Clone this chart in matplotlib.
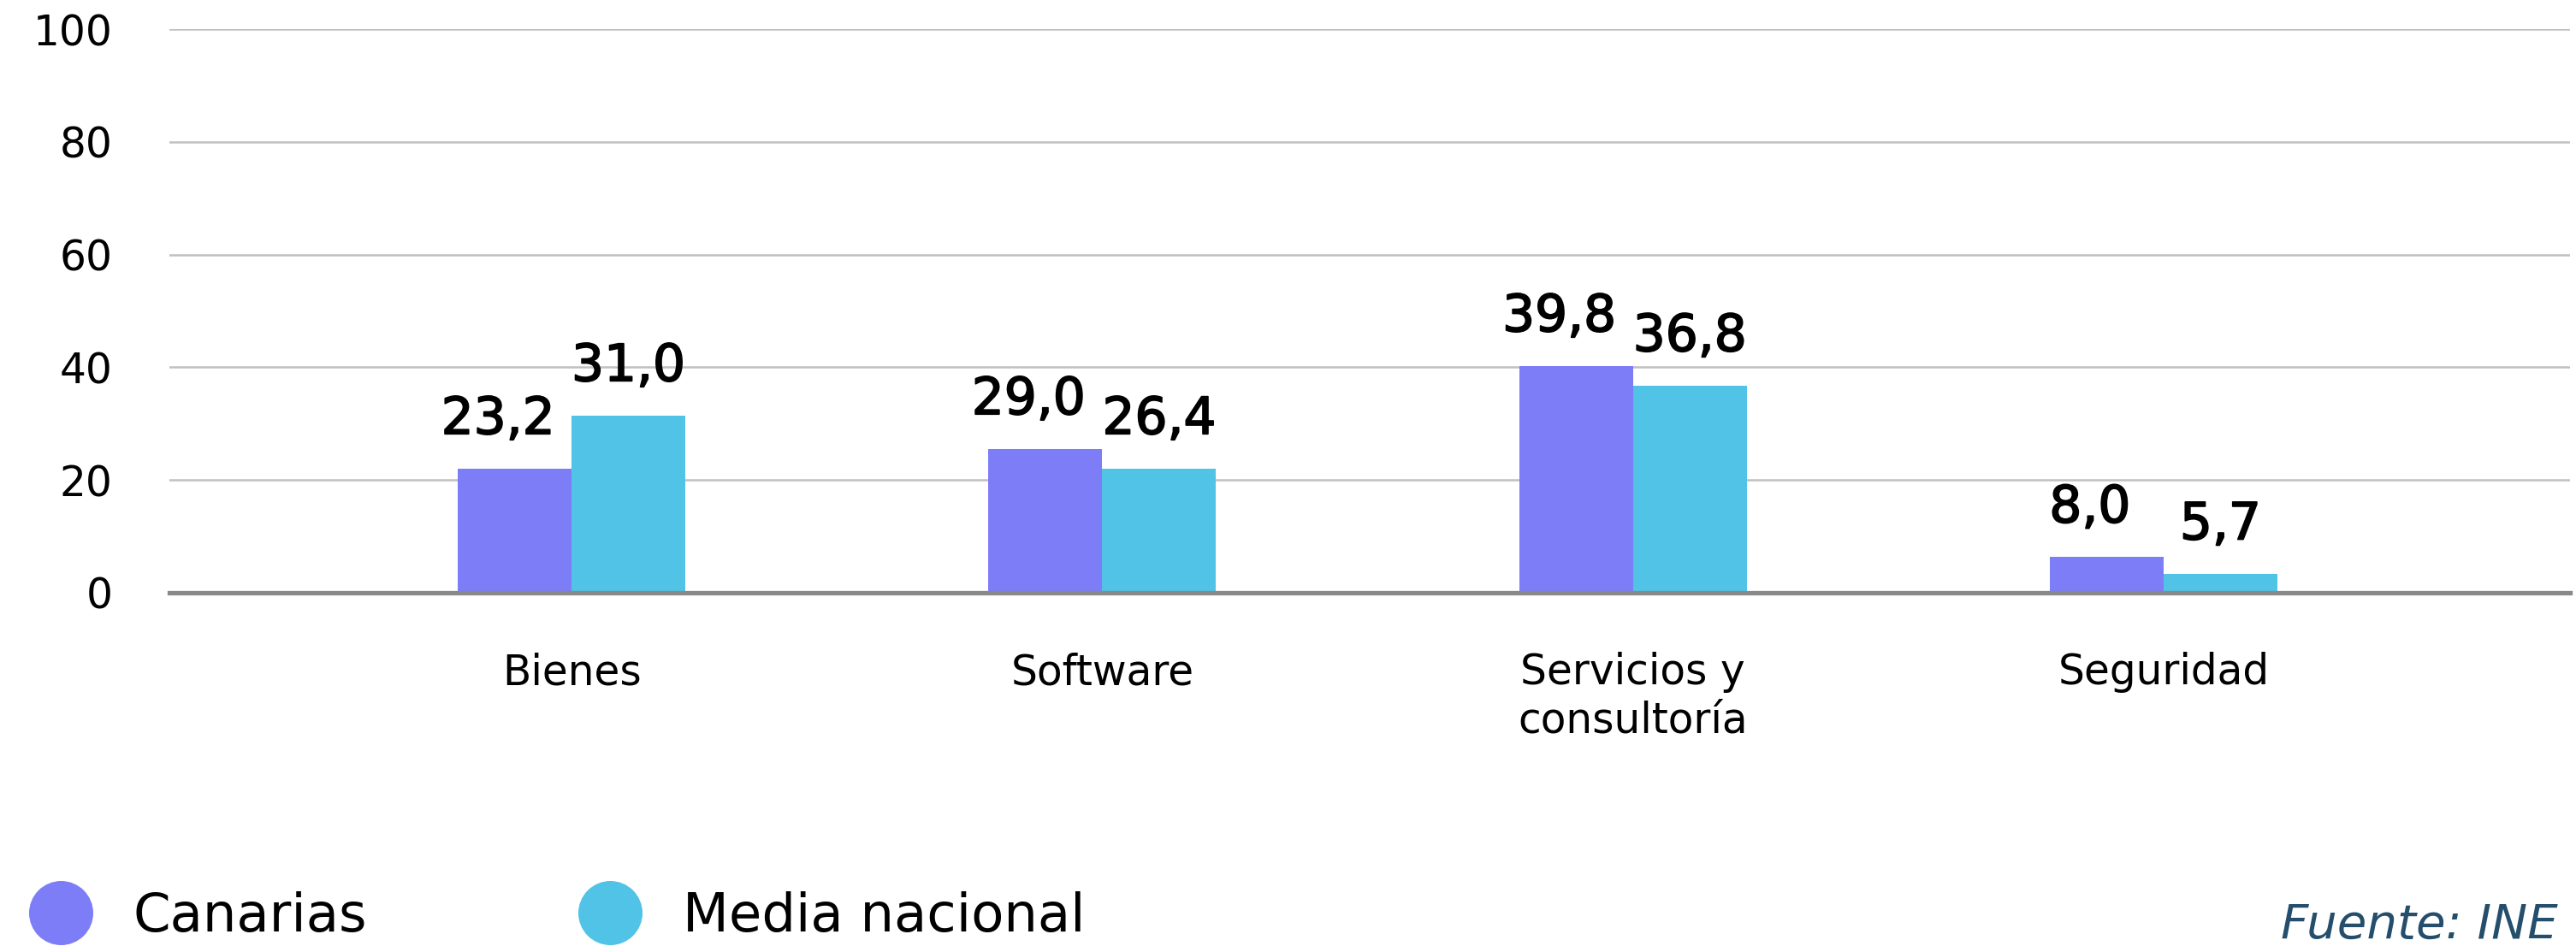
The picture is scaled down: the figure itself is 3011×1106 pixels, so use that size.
import matplotlib

matplotlib.use("Agg")
import matplotlib.patheffects as pe  # noqa: E402
import matplotlib.pyplot as plt  # noqa: E402
import numpy as np  # noqa: E402
from matplotlib.lines import Line2D  # noqa: E402

categories = ["Bienes", "Software", "Servicios y\nconsultoría", "Seguridad"]
series_names = ["Canarias", "Media nacional"]
# bar heights as drawn in the reference; labels as printed above the bars
canarias = [22.0, 25.5, 40.2, 6.3]
media = [31.4, 22.0, 36.7, 3.3]
canarias_labels = ["23,2", "29,0", "39,8", "8,0"]
media_labels = ["31,0", "26,4", "36,8", "5,7"]
y_ticks = [0, 20, 40, 60, 80, 100]
source = "Fuente: INE"

C_CAN = "#7D7DF8"
C_MED = "#50C3E6"

plt.rcParams["font.family"] = ["DejaVu Sans"]

W, H = 3011, 1106
fig = plt.figure(figsize=(W / 100, H / 100), dpi=100)
ax = fig.add_axes([198 / W, 1 - 693 / H, (3004 - 198) / W, (693 - 34) / H])

x = np.arange(len(categories))
bw = 0.2145
b1 = ax.bar(x - bw / 2, canarias, bw, color=C_CAN, zorder=3)
b2 = ax.bar(x + bw / 2, media, bw, color=C_MED, zorder=3)

# Canarias labels sit a little left so they don't touch the neighbouring label
bold_fx = [pe.withStroke(linewidth=1.3, foreground="black")]
for bars, labels, dx in ((b1, canarias_labels, -14), (b2, media_labels, 0)):
    for rect, lab in zip(bars, labels):
        ax.annotate(
            lab,
            (rect.get_x() + rect.get_width() / 2, rect.get_height()),
            xytext=(dx, 20),
            textcoords="offset points",
            ha="center",
            va="bottom",
            fontsize=43,
            color="black",
            path_effects=bold_fx,
        )

ax.set_xlim(-0.758, 3.766)
ax.set_ylim(0, 100)
ax.set_yticks(y_ticks)
ax.set_xticks(x)
ax.set_xticklabels(categories, fontsize=35, linespacing=1.2)
ax.tick_params(axis="y", length=0, pad=48, labelsize=35)
ax.tick_params(axis="x", length=0, pad=50)
ax.yaxis.grid(True, color="#C0C0C0", lw=1.8, zorder=0)
ax.set_axisbelow(True)
for s in ("top", "right", "left"):
    ax.spines[s].set_visible(False)
ax.spines["bottom"].set_color("#898989")
ax.spines["bottom"].set_linewidth(3.8)
ax.spines["bottom"].set_zorder(4)

handles = [
    Line2D([], [], ls="", marker="o", markersize=54, color=c, markeredgewidth=0)
    for c in (C_CAN, C_MED)
]
fig.legend(
    handles,
    series_names,
    loc="center left",
    bbox_to_anchor=(34 / W, (H - 1072) / H),
    ncol=2,
    frameon=False,
    fontsize=45,
    handlelength=1.17,
    handletextpad=0.78,
    columnspacing=3.95,
    borderpad=0,
    borderaxespad=0,
)

fig.text(
    2990 / W,
    (H - 1097) / H,
    source,
    ha="right",
    va="baseline",
    fontsize=40.5,
    style="italic",
    color="#244E6C",
)

fig.savefig("out.png", dpi=100)
plt.close(fig)
